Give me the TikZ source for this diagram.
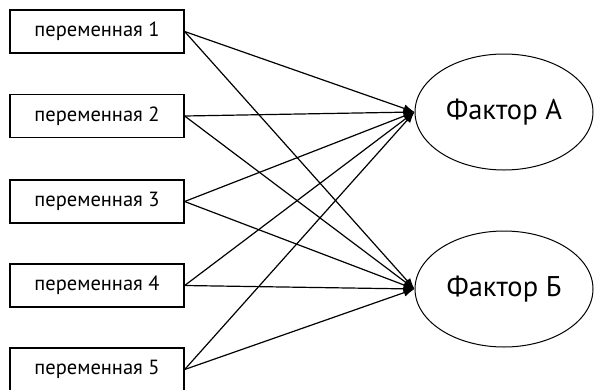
\documentclass[tikz,border=0pt]{standalone}
\usepackage{fontspec}
\setmainfont{PT Sans}
\usetikzlibrary{shapes.geometric,arrows.meta}
\begin{document}
\begin{tikzpicture}[x=1pt,y=-1pt,
  varbox/.style={draw,line width=1.3pt,minimum width=174pt,minimum height=43pt,inner sep=0pt,font=\fontsize{20.5}{22}\selectfont},
  factor/.style={draw,ellipse,line width=1pt,minimum width=178pt,minimum height=116pt,inner sep=0pt,font=\fontsize{28.5}{30}\selectfont},
  link/.style={line width=1.2pt,-{Latex[length=11pt,width=8pt]}}]
\useasboundingbox (0,0) rectangle (594,389);
\node[varbox] (v1) at (97,31.5) {переменная 1};
\node[varbox] (v2) at (97,116) {переменная 2};
\node[varbox] (v3) at (97,201.5) {переменная 3};
\node[varbox] (v4) at (97,285.5) {переменная 4};
\node[varbox] (v5) at (97,369.5) {переменная 5};
\node[factor] (A) at (504,112) {Фактор А};
\node[factor] (B) at (504,289) {Фактор Б};
\foreach \v in {v1,v2,v3,v4,v5}{
  \draw[link] (\v.east) -- (A.west);
  \draw[link] (\v.east) -- (B.west);
}
\end{tikzpicture}
\end{document}
